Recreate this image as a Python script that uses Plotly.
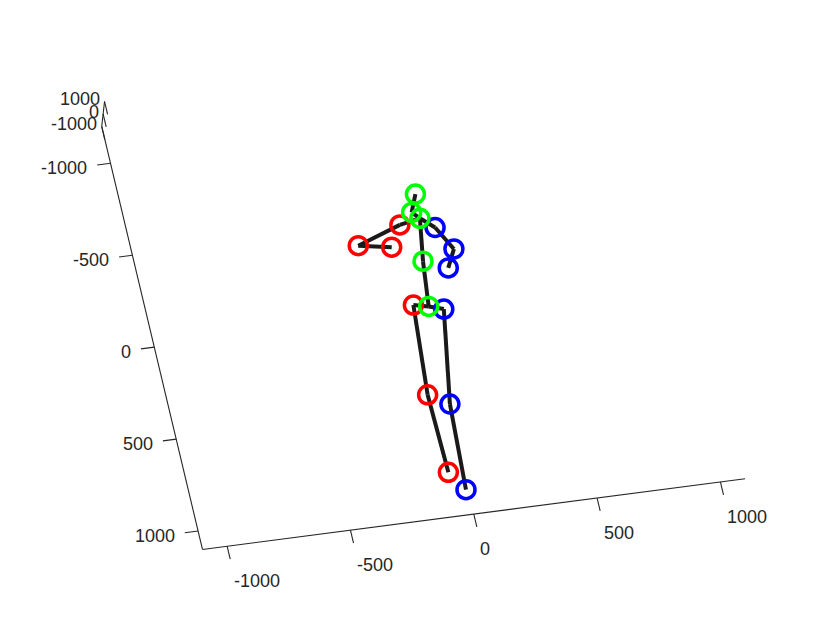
import plotly.graph_objects as go

# 3D pose, 17 joints (mm). Order:
# pelvis, R hip, R knee, R foot, L hip, L knee, L foot,
# spine, thorax, neck, head, L shoulder, L elbow, L wrist, R shoulder, R elbow, R wrist
joint_x = [0, 57, -8, -25, -59, -87, -78, 20, 48, 21, 53, -37, -220, -90, 99, 153, 113]
joint_y = [39, 63, 568, 1031, 21, 504, 927, -204, -432, -469, -563, -411, -330, -299, -373, -247, -151]
joint_z = [0, 0, 0, 0, 0, 0, 0, 0, 0, 0, 0, 0, 0, 0, 0, 0, 0]

bones = [(0, 1), (1, 2), (2, 3), (0, 4), (4, 5), (5, 6), (0, 7), (7, 8),
         (8, 9), (9, 10), (8, 11), (11, 12), (12, 13), (8, 14), (14, 15), (15, 16)]

right_joints = [1, 2, 3, 14, 15, 16]
left_joints = [4, 5, 6, 11, 12, 13]
centre_joints = [0, 7, 8, 9, 10]

# axis limits and ticks
x_lim = [-1100, 1100]
y_lim = [-1200, 1100]
z_lim = [-1000, 1000]
x_ticks = [-1000, -500, 0, 500, 1000]
y_ticks = [-1000, -500, 0, 500, 1000]
z_ticks = [-1000, 0, 1000]

# orthographic view: screen pixels per data unit for each axis
ORIGIN = (425.6, 311.8)          # screen position of (0, 0, zmin)
EX = (0.24665, -0.03215)
EY = (0.0438, 0.1839)
EZ = (0.0014, -0.0125)

# page body has an 8px margin; offset the pixel frame so marks land in place
PAGE_PAD = 8

AXIS_COLOR = "#262626"
FONT = dict(family="Liberation Sans, Arial, sans-serif", size=18, color=AXIS_COLOR)


def project(x, y, z):
    dz = z - z_lim[0]
    return (ORIGIN[0] + x * EX[0] + y * EY[0] + dz * EZ[0],
            ORIGIN[1] + x * EX[1] + y * EY[1] + dz * EZ[1])


def segments(pairs):
    xs, ys = [], []
    for a, b in pairs:
        pa, pb = project(*a), project(*b)
        xs += [pa[0], pb[0], None]
        ys += [pa[1], pb[1], None]
    return xs, ys


fig = go.Figure()

# axes box lines and ticks
x0, y0, z0 = x_lim[0], y_lim[0], z_lim[0]
axis_pairs = [
    ((x_lim[0], y_lim[1], z0), (x_lim[1], y_lim[1], z0)),
    ((x0, y_lim[0], z0), (x0, y_lim[1], z0)),
    ((x0, y0, z_lim[0]), (x0, y0, z_lim[1])),
]
axis_pairs += [((t, y_lim[1], z0), (t, y_lim[1] + 70, z0)) for t in x_ticks]
axis_pairs += [((x0, t, z0), (x0 - 54, t, z0)) for t in y_ticks]
axis_pairs += [((x0, y0, t), (x0, y0 + 70, t)) for t in z_ticks]
ax_x, ax_y = segments(axis_pairs)
fig.add_scatter(x=ax_x, y=ax_y, mode="lines", line=dict(color=AXIS_COLOR, width=1.1),
                hoverinfo="skip", showlegend=False)

# skeleton bones
bone_pairs = [((joint_x[a], joint_y[a], joint_z[a]), (joint_x[b], joint_y[b], joint_z[b]))
              for a, b in bones]
bx, by = segments(bone_pairs)
fig.add_scatter(x=bx, y=by, mode="lines", line=dict(color="#1a1a1a", width=4),
                hoverinfo="skip", showlegend=False)

# joints
for idx, colour in [(left_joints, "#ff0000"), (right_joints, "#0000ff"), (centre_joints, "#00ff00")]:
    pts = [project(joint_x[i], joint_y[i], joint_z[i]) for i in idx]
    fig.add_scatter(
        x=[p[0] for p in pts], y=[p[1] for p in pts], mode="markers",
        marker=dict(symbol="circle-open", size=18, color=colour, line=dict(width=3.5, color=colour)),
        showlegend=False,
    )

# tick labels
annotations = []
for t in x_ticks:
    px, py = project(t, y_lim[1], z0)
    annotations.append(dict(x=px + 4.5, y=py + 35, text=str(t), xanchor="left", yanchor="middle"))
for t in y_ticks:
    px, py = project(x0, t, z0)
    annotations.append(dict(x=px - 21, y=py + 5, text=str(t), xanchor="right", yanchor="middle"))
for t in z_ticks:
    px, py = project(x0, y0, t)
    annotations.append(dict(x=px - 2.5, y=py - 2, text=str(t), xanchor="right", yanchor="middle"))
for a in annotations:
    a.update(xref="x", yref="y", showarrow=False, font=FONT)

fig.update_layout(
    width=822,
    height=617,
    autosize=False,
    margin=dict(l=0, r=0, t=0, b=0),
    plot_bgcolor="white",
    paper_bgcolor="white",
    annotations=annotations,
    font=FONT,
)
fig.update_xaxes(range=[PAGE_PAD, 822 + PAGE_PAD], visible=False)
fig.update_yaxes(range=[617 + PAGE_PAD, PAGE_PAD], visible=False)

fig.write_html("out.html")
